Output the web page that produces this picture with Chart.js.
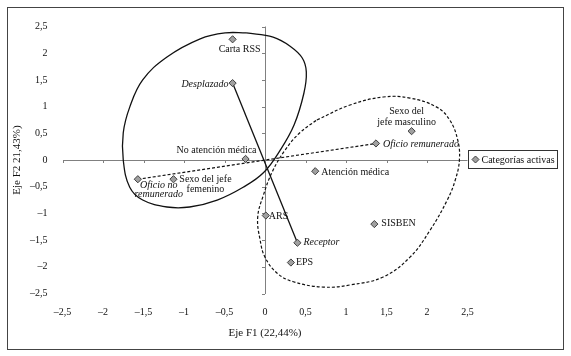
<!DOCTYPE html>
<html>
<head>
<meta charset="utf-8">
<script src="https://cdn.jsdelivr.net/npm/chart.js"></script>
<style>
    html, body { margin: 0; padding: 0; background: #fff; }
    #wrap { width: 571px; height: 356px; }
</style>
</head>
<body>
<div id="wrap"><canvas id="acm"></canvas></div>
<script>
// Categorías activas (coordenadas en los ejes F1 / F2)
const categories = ['Carta RSS', 'Desplazado', 'No atención médica', 'Oficio no\nremunerado',
    'Sexo del jefe\nfemenino', 'ARS', 'Receptor', 'EPS', 'SISBEN', 'Atención médica',
    'Sexo del\njefe masculino', 'Oficio remunerado'];
const f1 = [-0.40, -0.40, -0.24, -1.57, -1.13, 0.01, 0.40, 0.32, 1.35, 0.62, 1.81, 1.37];
const f2 = [2.26, 1.44, 0.02, -0.36, -0.36, -1.04, -1.55, -1.92, -1.20, -0.21, 0.54, 0.31];

// pares de categorías unidas por una recta
const solidPair = [1, 6];   // Desplazado - Receptor
const dashedPair = [3, 11]; // Oficio no remunerado - Oficio remunerado

// contorno del grupo 1 (línea continua)
const group1X = [-0.23, 0.10, 0.31, 0.46, 0.51, 0.48, 0.36, 0.19, -0.02, -0.27, -0.59, -0.93,
    -1.21, -1.51, -1.67, -1.75, -1.75, -1.67, -1.51, -1.21, -0.80, -0.49];
const group1Y = [2.38, 2.30, 2.13, 1.91, 1.65, 1.25, 0.66, 0.19, -0.24, -0.51, -0.75, -0.88,
    -0.88, -0.75, -0.51, 0.00, 0.51, 0.99, 1.50, 1.93, 2.27, 2.38];

// contorno del grupo 2 (línea discontinua)
const group2X = [0.64, 1.05, 1.46, 1.79, 2.12, 2.28, 2.38, 2.40, 2.35, 2.25, 2.04, 1.79, 1.46,
    1.05, 0.72, 0.35, 0.15, 0.00, -0.06, -0.09, -0.02, 0.09, 0.25, 0.43];
const group2Y = [0.75, 1.03, 1.18, 1.16, 0.99, 0.75, 0.37, 0.00, -0.37, -0.75, -1.31, -1.82,
    -2.19, -2.34, -2.38, -2.28, -2.12, -1.82, -1.50, -1.07, -0.66, -0.22, 0.19, 0.51];

const axisMin = -2.5, axisMax = 2.5, axisStep = 0.5;

// estilo de las etiquetas: desplazamiento en px, alineación, cursiva
const labelStyle = [
    { dx: 7, dy: 10, align: 'center' },
    { dx: -4, dy: 1, align: 'right', italic: true },
    { dx: -29, dy: -9, align: 'center' },
    { dx: 21, dy: 6, align: 'center', italic: true, lh: 9 },
    { dx: 32, dy: 0, align: 'center', lh: 10 },
    { dx: 3, dy: 1, align: 'left' },
    { dx: 6, dy: 0, align: 'left', italic: true },
    { dx: 5, dy: 0, align: 'left' },
    { dx: 7, dy: -1, align: 'left' },
    { dx: 6, dy: 1, align: 'left' },
    { dx: -5, dy: -20, align: 'center', lh: 11 },
    { dx: 7, dy: 1, align: 'left', italic: true }
];

const serif = "'Liberation Serif', 'DejaVu Serif', serif";

function fmt(v) {
    return String(v).replace('.', ',').replace('-', '\u2013');
}

const pts = f1.map((x, i) => ({ x: x, y: f2[i] }));
const pairPts = p => p.map(i => ({ x: f1[i], y: f2[i] }));
// contorno cerrado: se repite el primer punto al final
const outline = (xs, ys) => xs.concat(xs[0]).map((x, i) => ({ x: x, y: ys.concat(ys[0])[i] }));

const pointLabels = {
    id: 'pointLabels',
    afterDatasetsDraw(chart) {
        const ctx = chart.ctx;
        const meta = chart.getDatasetMeta(0);
        ctx.save();
        ctx.fillStyle = '#111';
        ctx.textBaseline = 'middle';
        meta.data.forEach((el, i) => {
            const s = labelStyle[i];
            ctx.font = (s.italic ? 'italic ' : '') + '10px ' + serif;
            ctx.textAlign = s.align;
            categories[i].split('\n').forEach((line, k) => {
                ctx.fillText(line, el.x + s.dx, el.y + s.dy + k * (s.lh || 10));
            });
        });
        ctx.restore();
    }
};

const axisMarks = {
    id: 'axisMarks',
    beforeDatasetsDraw(chart) {
        const { ctx, scales: { x, y } } = chart;
        const x0 = x.getPixelForValue(0), y0 = y.getPixelForValue(0);
        ctx.save();
        ctx.strokeStyle = '#808080';
        ctx.lineWidth = 1;
        ctx.beginPath();
        x.ticks.forEach(t => {
            const px = Math.round(x.getPixelForValue(t.value)) + 0.5;
            ctx.moveTo(px, y0);
            ctx.lineTo(px, y0 + 3);
        });
        y.ticks.forEach(t => {
            const py = Math.round(y.getPixelForValue(t.value)) + 0.5;
            ctx.moveTo(x0 - 3, py);
            ctx.lineTo(x0, py);
        });
        ctx.stroke();
        ctx.restore();
    }
};

const frameAndLegend = {
    id: 'frameAndLegend',
    afterDraw(chart) {
        const ctx = chart.ctx;
        const area = chart.chartArea;
        ctx.save();
        ctx.strokeStyle = '#444';
        ctx.lineWidth = 1;
        ctx.strokeRect(7.5, 7.5, 556, 342);
        // leyenda
        const top = Math.round(chart.scales.y.getPixelForValue(0)) - 9.5;
        const left = Math.round(area.right) + 0.5;
        ctx.strokeStyle = '#333';
        ctx.strokeRect(left, top, 89, 18);
        ctx.fillStyle = '#a0a0a0';
        ctx.strokeStyle = '#404040';
        const cx = left + 7, cy = top + 9;
        ctx.beginPath();
        ctx.moveTo(cx, cy - 3.5); ctx.lineTo(cx + 3.5, cy); ctx.lineTo(cx, cy + 3.5); ctx.lineTo(cx - 3.5, cy);
        ctx.closePath();
        ctx.fill(); ctx.stroke();
        ctx.fillStyle = '#111';
        ctx.font = '10px ' + serif;
        ctx.textBaseline = 'middle';
        ctx.textAlign = 'left';
        ctx.fillText(chart.data.datasets[0].label, left + 13, cy + 0.5);
        ctx.restore();
    }
};

new Chart(document.getElementById('acm'), {
    type: 'scatter',
    data: {
        datasets: [
            {
                label: 'Categorías activas',
                data: pts,
                pointStyle: 'rectRot',
                pointRadius: 3.6,
                pointHoverRadius: 3.6,
                backgroundColor: '#a0a0a0',
                borderColor: '#404040',
                borderWidth: 1
            },
            {
                label: 'par1',
                data: pairPts(solidPair),
                showLine: true,
                pointRadius: 0,
                borderColor: '#111',
                borderWidth: 1.3
            },
            {
                label: 'par2',
                data: pairPts(dashedPair),
                showLine: true,
                pointRadius: 0,
                borderColor: '#111',
                borderWidth: 1.2,
                borderDash: [3, 2]
            },
            {
                label: 'grupo1',
                data: outline(group1X, group1Y),
                showLine: true,
                tension: 0.4,
                pointRadius: 0,
                borderColor: '#111',
                borderWidth: 1.3
            },
            {
                label: 'grupo2',
                data: outline(group2X, group2Y),
                showLine: true,
                tension: 0.4,
                pointRadius: 0,
                borderColor: '#111',
                borderWidth: 1.2,
                borderDash: [3, 2]
            }
        ]
    },
    options: {
        responsive: true,
        maintainAspectRatio: false,
        animation: false,
        events: [],
        layout: { padding: { left: 8, right: 103.5, top: 26.5, bottom: 15.5 } },
        elements: { line: { capBezierPoints: false } },
        scales: {
            x: {
                type: 'linear',
                min: axisMin,
                max: axisMax,
                afterFit: s => { s.height = 47; },
                border: { display: false },
                grid: {
                    drawTicks: false,
                    color: c => (c.tick && c.tick.value === 0) ? '#808080' : 'rgba(0,0,0,0)'
                },
                ticks: {
                    stepSize: axisStep,
                    padding: 13,
                    color: '#111',
                    font: { family: serif, size: 10 },
                    callback: v => fmt(v)
                },
                title: {
                    display: true,
                    text: 'Eje F1 (22,44%)',
                    color: '#111',
                    font: { family: serif, size: 11 },
                    padding: { top: 0, bottom: 1 }
                }
            },
            y: {
                type: 'linear',
                min: axisMin,
                max: axisMax,
                afterFit: s => { s.width = 54.5; },
                border: { display: false },
                grid: {
                    drawTicks: false,
                    color: c => (c.tick && c.tick.value === 0) ? '#808080' : 'rgba(0,0,0,0)'
                },
                ticks: {
                    stepSize: axisStep,
                    padding: 15,
                    color: '#111',
                    font: { family: serif, size: 10 },
                    callback: v => fmt(v)
                },
                title: {
                    display: true,
                    text: 'Eje F2 21,43%)',
                    color: '#111',
                    font: { family: serif, size: 11 },
                    padding: { top: 3, bottom: 0 }
                }
            }
        },
        plugins: {
            legend: { display: false },
            tooltip: { enabled: false }
        }
    },
    plugins: [axisMarks, pointLabels, frameAndLegend]
});
</script>
</body>
</html>
